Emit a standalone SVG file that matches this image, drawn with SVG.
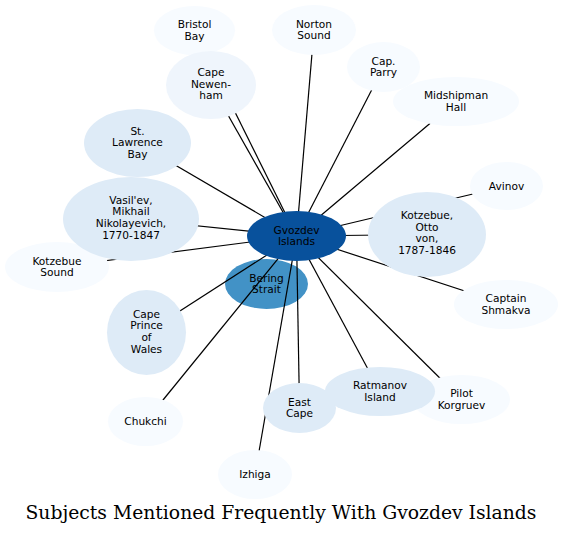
<svg xmlns="http://www.w3.org/2000/svg" width="562" height="535" viewBox="0 0 562 535">
<style>
.n text{font-family:"DejaVu Sans","Liberation Sans",sans-serif;font-size:10.6px;fill:#000;text-anchor:middle}
.c0{fill:#f7fbff}
.c1{fill:#deebf7}
.c2{fill:#eff5fc}
#edges line{stroke:#000;stroke-width:1.2}
.title{font-family:"DejaVu Serif","Liberation Serif",serif;font-size:18px;fill:#000;text-anchor:middle}
</style>
<rect width="562" height="535" fill="#fff"/>
<g id="bering-strait" class="n"><ellipse cx="266.5" cy="284" rx="41.5" ry="25" fill="#4292c6"/><text x="266.5" y="281.5">Bering<tspan x="266.5" dy="11.7">Strait</tspan></text></g>
<g id="edges">
<line x1="296.5" y1="236" x2="194.5" y2="30.5"/>
<line x1="296.5" y1="236" x2="211" y2="85"/>
<line x1="296.5" y1="236" x2="314" y2="30"/>
<line x1="296.5" y1="236" x2="383.5" y2="67"/>
<line x1="296.5" y1="236" x2="456" y2="101.5"/>
<line x1="296.5" y1="236" x2="137.5" y2="143"/>
<line x1="296.5" y1="236" x2="131" y2="219"/>
<line x1="296.5" y1="236" x2="57" y2="267"/>
<line x1="296.5" y1="236" x2="427" y2="234.5"/>
<line x1="296.5" y1="236" x2="506.5" y2="186"/>
<line x1="296.5" y1="236" x2="506" y2="304.5"/>
<line x1="296.5" y1="236" x2="146.5" y2="332.5"/>
<line x1="296.5" y1="236" x2="145.5" y2="421.5"/>
<line x1="296.5" y1="236" x2="255" y2="474.5"/>
<line x1="296.5" y1="236" x2="299.5" y2="408"/>
<line x1="296.5" y1="236" x2="380" y2="391.5"/>
<line x1="296.5" y1="236" x2="461.5" y2="399.5"/>
</g>
<g id="bristol-bay" class="n"><ellipse class="c0" cx="194.5" cy="30.5" rx="40.5" ry="24.5"/><text x="194.5" y="28">Bristol<tspan x="194.5" dy="11.7">Bay</tspan></text></g>
<g id="cape-newenham" class="n"><ellipse class="c2" cx="211" cy="85" rx="45" ry="34"/><text x="211" y="76">Cape<tspan x="211" dy="11.7">Newen-</tspan><tspan x="211" dy="11.7">ham</tspan></text></g>
<g id="norton-sound" class="n"><ellipse class="c0" cx="314" cy="30" rx="42" ry="25"/><text x="314" y="27.5">Norton<tspan x="314" dy="11.7">Sound</tspan></text></g>
<g id="cap-parry" class="n"><ellipse class="c0" cx="383.5" cy="67" rx="36.5" ry="25"/><text x="383.5" y="64.5">Cap.<tspan x="383.5" dy="11.7">Parry</tspan></text></g>
<g id="midshipman-hall" class="n"><ellipse class="c0" cx="456" cy="101.5" rx="63" ry="24.5"/><text x="456" y="99">Midshipman<tspan x="456" dy="11.7">Hall</tspan></text></g>
<g id="st-lawrence-bay" class="n"><ellipse class="c1" cx="137.5" cy="143" rx="53.5" ry="34"/><text x="137.5" y="134.5">St.<tspan x="137.5" dy="11.7">Lawrence</tspan><tspan x="137.5" dy="11.7">Bay</tspan></text></g>
<g id="kotzebue-sound" class="n"><ellipse class="c0" cx="57" cy="267" rx="52" ry="25"/><text x="57" y="264.5">Kotzebue<tspan x="57" dy="11.7">Sound</tspan></text></g>
<g id="vasilev" class="n"><ellipse class="c1" cx="131" cy="219" rx="68" ry="42"/><text x="131" y="203.5">Vasil'ev,<tspan x="131" dy="11.7">Mikhail</tspan><tspan x="131" dy="11.7">Nikolayevich,</tspan><tspan x="131" dy="11.7">1770-1847</tspan></text></g>
<g id="kotzebue-otto" class="n"><ellipse class="c1" cx="427" cy="234.5" rx="59" ry="42.5"/><text x="427" y="219">Kotzebue,<tspan x="427" dy="11.7">Otto</tspan><tspan x="427" dy="11.7">von,</tspan><tspan x="427" dy="11.7">1787-1846</tspan></text></g>
<g id="avinov" class="n"><ellipse class="c0" cx="506.5" cy="186" rx="36.5" ry="24"/><text x="506.5" y="189.5">Avinov</text></g>
<g id="captain-shmakva" class="n"><ellipse class="c0" cx="506" cy="304.5" rx="52" ry="24.5"/><text x="506" y="302">Captain<tspan x="506" dy="11.7">Shmakva</tspan></text></g>
<g id="cape-prince-of-wales" class="n"><ellipse class="c1" cx="146.5" cy="332.5" rx="39.5" ry="42.5"/><text x="146.5" y="317.5">Cape<tspan x="146.5" dy="11.7">Prince</tspan><tspan x="146.5" dy="11.7">of</tspan><tspan x="146.5" dy="11.7">Wales</tspan></text></g>
<g id="chukchi" class="n"><ellipse class="c0" cx="145.5" cy="421.5" rx="37.5" ry="24.5"/><text x="145.5" y="425">Chukchi</text></g>
<g id="izhiga" class="n"><ellipse class="c0" cx="255" cy="474.5" rx="37" ry="24.5"/><text x="255" y="478">Izhiga</text></g>
<g id="east-cape" class="n"><ellipse class="c1" cx="299.5" cy="408" rx="36.5" ry="25"/><text x="299.5" y="405.5">East<tspan x="299.5" dy="11.7">Cape</tspan></text></g>
<g id="pilot-korgruev" class="n"><ellipse class="c0" cx="461.5" cy="399.5" rx="48.5" ry="24.5"/><text x="461.5" y="397">Pilot<tspan x="461.5" dy="11.7">Korgruev</tspan></text></g>
<g id="ratmanov-island" class="n"><ellipse class="c1" cx="380" cy="391.5" rx="55" ry="24.5"/><text x="380" y="389">Ratmanov<tspan x="380" dy="11.7">Island</tspan></text></g>
<g id="gvozdev-islands" class="n"><ellipse cx="296.5" cy="236" rx="49.5" ry="25" fill="#08519c"/><text x="296.5" y="233.5">Gvozdev<tspan x="296.5" dy="11.7">Islands</tspan></text></g>
<text class="title" x="281" y="518.5" textLength="511" lengthAdjust="spacingAndGlyphs">Subjects Mentioned Frequently With Gvozdev Islands</text>
</svg>
